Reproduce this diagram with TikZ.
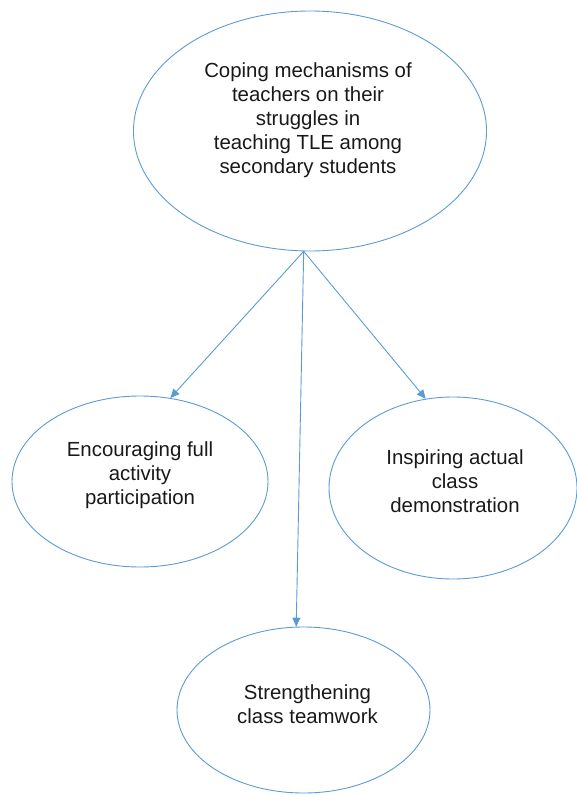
\documentclass[tikz,border=0pt]{standalone}
\usepackage{fontspec}
\setmainfont{Liberation Sans}
\usetikzlibrary{shapes.geometric,arrows.meta}
\definecolor{outline}{RGB}{91,155,213}

\begin{document}
\begin{tikzpicture}[x=1pt,y=-1pt,
                    bubble/.style={ellipse,draw=outline,line width=0.9pt,inner sep=0pt},
                    bubble text/.style={align=center,text=black!90,font=\fontsize{20.4}{24}\selectfont},
                    link/.style={draw=outline,line width=0.9pt,-{Triangle[length=9pt,width=8pt]}}]
    \path[use as bounding box] (0,0) rectangle (576,795);

    \node[bubble,minimum width=353pt,minimum height=240pt,
          label={[bubble text,xshift=-2pt,yshift=11pt]center:{Coping mechanisms of\\teachers on their\\struggles in\\teaching TLE among\\secondary students}}]
          (coping) at (310,131) {};
    \node[bubble,minimum width=256pt,minimum height=171pt,
          label={[bubble text,yshift=6.5pt]center:{Encouraging full\\activity\\participation}}]
          (participation) at (140,481.5) {};
    \node[bubble,minimum width=248pt,minimum height=182pt,
          label={[bubble text,xshift=2pt,yshift=7pt]center:{Inspiring actual\\class\\demonstration}}]
          (demonstration) at (453,488) {};
    \node[bubble,minimum width=253pt,minimum height=166pt,
          label={[bubble text,xshift=4pt,yshift=5.5pt]center:{Strengthening\\class teamwork}}]
          (teamwork) at (303.5,710) {};

    \draw[link] (coping.267) -- (participation.70);
    \draw[link] (coping.267) -- (demonstration.107);
    \draw[link] (coping.267) -- (teamwork.95);
\end{tikzpicture}
\end{document}
